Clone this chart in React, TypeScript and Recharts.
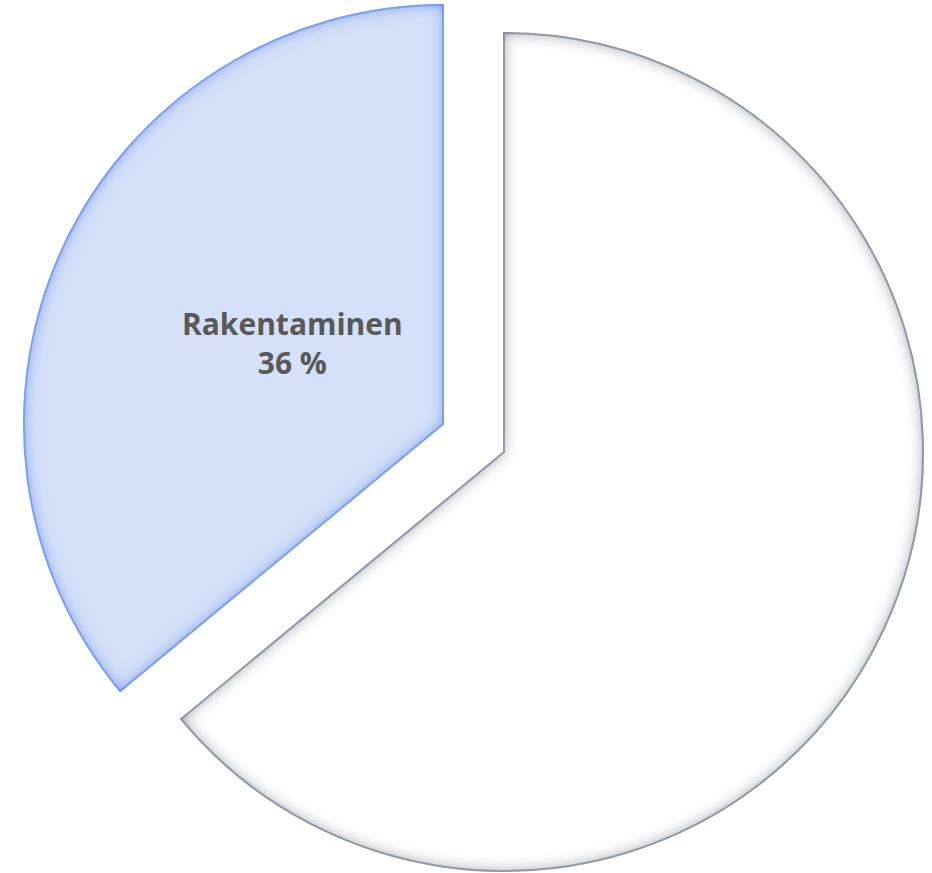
import { PieChart, Pie, Cell } from 'recharts';

const categories = ['Rakentaminen', 'Muut'];
const shares = [36, 64];

const data = categories.map((name, i) => ({ name, value: shares[i] }));

const RADIAN = Math.PI / 180;

const renderLabel = (props: any) => {
    const { cx, cy, midAngle, outerRadius, index, percent } = props;
    if (index !== 0) return null;
    const r = outerRadius * 0.4;
    const x = cx + r * Math.cos(-midAngle * RADIAN);
    const y = cy + r * Math.sin(-midAngle * RADIAN);
    return (
        <text x={x + 1} y={y} textAnchor="middle" fill="#595959" fontFamily="'Open Sans', sans-serif" fontWeight={700} fontSize={30}>
            <tspan x={x + 1} dy={-18}>{categories[index]}</tspan>
            <tspan x={x + 1} dy={39}>{`${Math.round(percent * 100)} %`}</tspan>
        </text>
    );
};

export default function App() {
    return (
        <div style={{ position: 'absolute', left: 0, top: 0, width: 932, height: 873, background: '#fff' }}>
            <PieChart width={932} height={873} margin={{ top: 0, right: 0, bottom: 0, left: 0 }}>
                <defs>
                    <filter id="glowGray" x="-10%" y="-10%" width="120%" height="120%">
                        <feFlood floodColor="#74818f" result="c" />
                        <feComposite in="c" in2="SourceAlpha" operator="out" result="o" />
                        <feGaussianBlur in="o" stdDeviation="8" result="b" />
                        <feComposite in="b" in2="SourceAlpha" operator="in" result="s" />
                        <feMerge>
                            <feMergeNode in="SourceGraphic" />
                            <feMergeNode in="s" />
                        </feMerge>
                    </filter>
                    <filter id="glowBlue" x="-10%" y="-10%" width="120%" height="120%">
                        <feFlood floodColor="#5f8aee" result="c" />
                        <feComposite in="c" in2="SourceAlpha" operator="out" result="o" />
                        <feGaussianBlur in="o" stdDeviation="8" result="b" />
                        <feComposite in="b" in2="SourceAlpha" operator="in" result="s" />
                        <feMerge>
                            <feMergeNode in="SourceGraphic" />
                            <feMergeNode in="s" />
                        </feMerge>
                    </filter>
                </defs>
                <Pie
                    data={data}
                    dataKey="value"
                    cx={504}
                    cy={452}
                    outerRadius={419}
                    startAngle={90}
                    endAngle={450}
                    labelLine={false}
                    isAnimationActive={false}
                >
                    <Cell fill="none" stroke="none" />
                    <Cell fill="#ffffff" stroke="#a3acb5" strokeWidth={2} filter="url(#glowGray)" />
                </Pie>
                <Pie
                    data={data}
                    dataKey="value"
                    cx={443}
                    cy={424}
                    outerRadius={419}
                    startAngle={90}
                    endAngle={450}
                    label={renderLabel}
                    labelLine={false}
                    isAnimationActive={false}
                >
                    <Cell fill="#d4e1f9" stroke="#8fb0f3" strokeWidth={2} filter="url(#glowBlue)" />
                    <Cell fill="none" stroke="none" />
                </Pie>
            </PieChart>
        </div>
    );
}
